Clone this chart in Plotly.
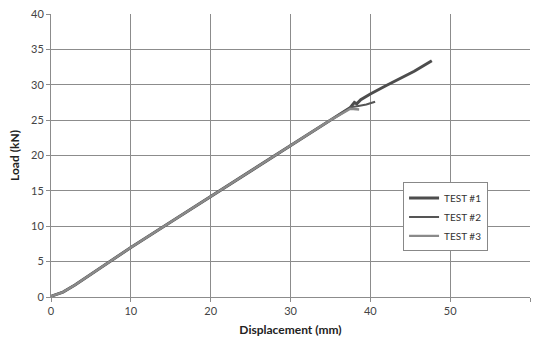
import plotly.graph_objects as go

x1 = [0, 0.5, 1.5, 3, 5, 10, 15, 20, 25, 30, 35, 37.5, 38.0, 38.3, 38.8, 40, 42, 44, 45.5, 47.7]
y1 = [0.1, 0.3, 0.7, 1.7, 3.2, 7.0, 10.6, 14.2, 17.9, 21.5, 25.0, 26.8, 27.5, 27.3, 27.9, 28.7, 29.9, 31.1, 31.9, 33.4]
x2 = [0, 0.5, 1.5, 3, 5, 10, 15, 20, 25, 30, 35, 37.5, 38.5, 39.5, 40.6]
y2 = [0.1, 0.3, 0.7, 1.7, 3.2, 7.0, 10.6, 14.2, 17.9, 21.5, 25.0, 26.8, 27.0, 27.2, 27.6]
x3 = [0, 0.5, 1.5, 3, 5, 10, 15, 20, 25, 30, 35, 37.5, 38.6]
y3 = [0.1, 0.3, 0.7, 1.7, 3.2, 7.0, 10.6, 14.2, 17.9, 21.5, 25.0, 26.6, 26.5]

names = ["TEST #1", "TEST #2", "TEST #3"]
colors = ["#4d4d4d", "#555555", "#8a8a8a"]
widths = [3, 2, 2.4]

fig = go.Figure()
for xs, ys, n, c, w in zip([x1, x2, x3], [y1, y2, y3], names, colors, widths):
    fig.add_trace(go.Scatter(x=xs, y=ys, name=n, mode="lines",
                             line=dict(color=c, width=w)))

fig.update_layout(
    width=534, height=341,
    margin=dict(l=51, r=4, t=14, b=44, autoexpand=False),
    plot_bgcolor="white", paper_bgcolor="white",
    font=dict(family="Lato, Open Sans, sans-serif", size=11, color="#444"),
    showlegend=True,
    legend=dict(x=0.735, y=0.405, xanchor="left", yanchor="top",
                bordercolor="#888", borderwidth=1, bgcolor="white",
                font=dict(size=10, color="#333"), itemwidth=30,
                tracegroupgap=4),
    xaxis=dict(range=[0, 60], dtick=10, showgrid=True, gridcolor="#8c8c8c",
               gridwidth=1, zeroline=False, showline=True, linecolor="#8c8c8c",
               ticks="outside", ticklen=4, tickcolor="#8c8c8c", automargin=False,
               title=dict(text="<b>Displacement (mm)</b>", font=dict(size=12, color="#222"), standoff=9)),
    yaxis=dict(range=[0, 40], dtick=5, showgrid=True, gridcolor="#8c8c8c",
               gridwidth=1, zeroline=False, showline=True, linecolor="#8c8c8c",
               ticks="outside", ticklen=4, tickcolor="#8c8c8c", automargin=False,
               title=dict(text="<b>Load (kN)</b>", font=dict(size=12, color="#222"), standoff=8)),
)

fig.write_html("out.html", config={"displayModeBar": False},
               post_script="document.body.style.margin='0';")
